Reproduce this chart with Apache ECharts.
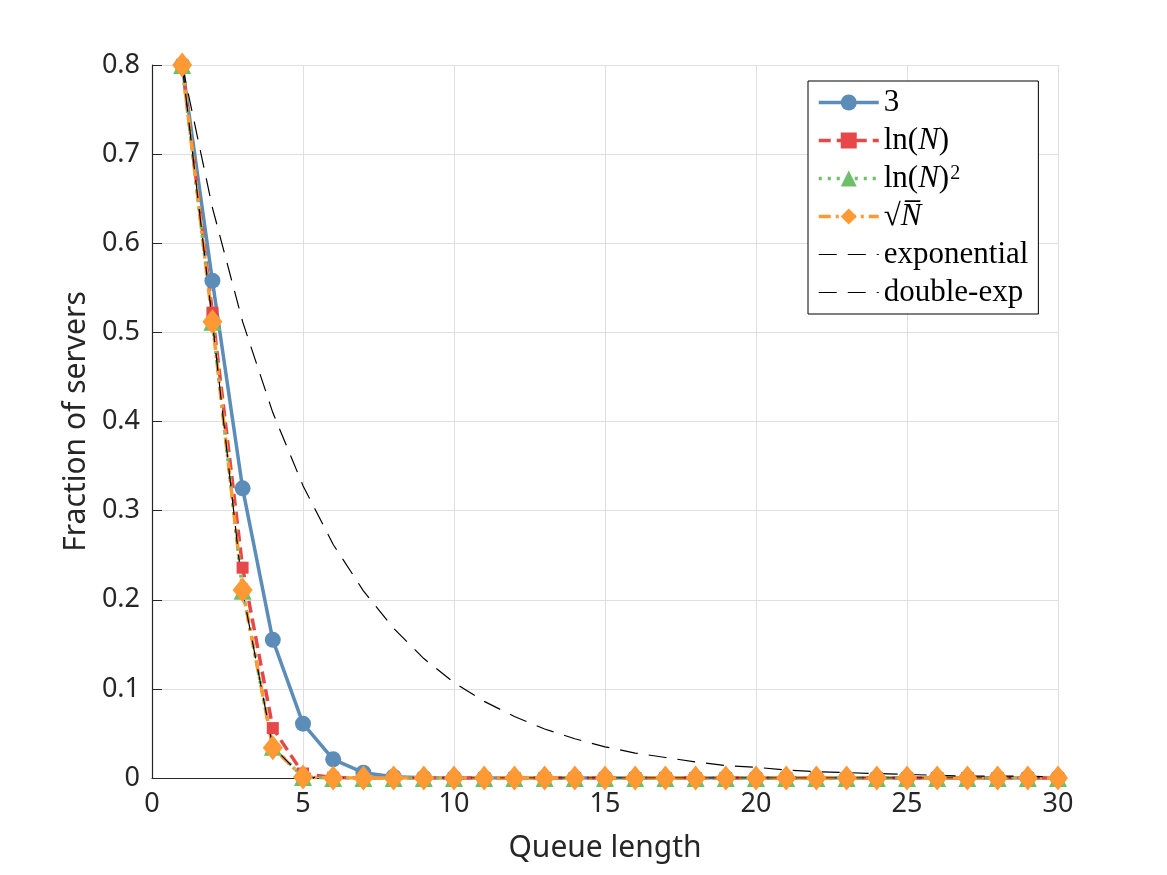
<!DOCTYPE html>
<html>
<head>
<meta charset="utf-8">
<script src="https://cdn.jsdelivr.net/npm/echarts@6/dist/echarts.min.js"></script>
<style>
  html, body { margin: 0; padding: 0; background: #fff; }
  #main { width: 1167px; height: 875px; }
</style>
</head>
<body>
<div id="main"></div>
<script>
var queueLen = [1, 2, 3, 4, 5, 6, 7, 8, 9, 10, 11, 12, 13, 14, 15, 16, 17, 18, 19, 20, 21, 22, 23, 24, 25, 26, 27, 28, 29, 30]

var seriesNames = ['3', 'ln(N)', 'ln(N)^2', 'sqrtN', 'exponential', 'double-exp']

var d3 = [0.8, 0.558, 0.325, 0.155, 0.061, 0.021, 0.006, 0.0015, 0.0004, 0.0001, 0, 0, 0, 0, 0, 0, 0, 0, 0, 0, 0, 0, 0, 0, 0, 0, 0, 0, 0, 0]
var dLn = [0.8, 0.522, 0.236, 0.056, 0.005, 0.0004, 0, 0, 0, 0, 0, 0, 0, 0, 0, 0, 0, 0, 0, 0, 0, 0, 0, 0, 0, 0, 0, 0, 0, 0]
var dLn2 = [0.8, 0.512, 0.21, 0.035, 0.001, 0, 0, 0, 0, 0, 0, 0, 0, 0, 0, 0, 0, 0, 0, 0, 0, 0, 0, 0, 0, 0, 0, 0, 0, 0]
var dSqrt = [0.8, 0.512, 0.211, 0.034, 0.001, 0, 0, 0, 0, 0, 0, 0, 0, 0, 0, 0, 0, 0, 0, 0, 0, 0, 0, 0, 0, 0, 0, 0, 0, 0]
var dExp = [0.8, 0.64, 0.512, 0.41, 0.328, 0.262, 0.21, 0.168, 0.134, 0.107, 0.086, 0.069, 0.055, 0.044, 0.035, 0.028, 0.023, 0.018, 0.014, 0.012, 0.009, 0.007, 0.006, 0.005, 0.004, 0.003, 0.002, 0.002, 0.002, 0.001]
var dDbl = [0.8, 0.512, 0.21, 0.035, 0.001, 0, 0, 0, 0, 0, 0, 0, 0, 0, 0, 0, 0, 0, 0, 0, 0, 0, 0, 0, 0, 0, 0, 0, 0, 0]

function pairs(ys) {
    return queueLen.map(function (x, i) { return [x, ys[i]] })
}

// legend labels, latex-ish look
var legendLabel = {
    '3': '{r|3}',
    'ln(N)': '{r|ln(}{i|N}{r|)}',
    'ln(N)^2': '{r|ln(}{i|N}{r|)}{s|2}',
    'sqrtN': '{r|√}{i|N\u0305}',
    'exponential': '{r|exponential}',
    'double-exp': '{r|double-exp}'
}

var axisColor = '#262626'
var gridColor = '#dfdfdf'
var noMark = 'rgba(0,0,0,0)'

var myChart = echarts.init(document.getElementById('main'))

var option = {
    animation: false,
    backgroundColor: '#fff',
    grid: { left: 152, top: 65, right: 109, bottom: 97 },
    legend: {
        orient: 'vertical',
        left: 808,
        top: 81,
        padding: [6, 10, 6, 9],
        itemGap: 7,
        itemWidth: 60,
        itemHeight: 20,
        backgroundColor: '#fff',
        borderColor: '#000',
        borderWidth: 1,
        borderRadius: 0,
        data: [
            { name: '3', lineStyle: { width: 3.5 } },
            { name: 'ln(N)', lineStyle: { width: 3.5 } },
            { name: 'ln(N)^2', lineStyle: { width: 3.5 } },
            { name: 'sqrtN', lineStyle: { width: 3.5 } },
            { name: 'exponential', lineStyle: { width: 1.2 } },
            { name: 'double-exp', lineStyle: { width: 1.2 } }
        ],
        formatter: function (name) { return legendLabel[name] },
        textStyle: {
            fontFamily: 'Liberation Serif',
            fontSize: 31,
            lineHeight: 30,
            color: '#000',
            rich: {
                r: { fontFamily: 'Liberation Serif', fontSize: 31, lineHeight: 30, color: '#000' },
                i: { fontFamily: 'Liberation Serif', fontStyle: 'italic', fontSize: 31, lineHeight: 30, color: '#000' },
                s: { fontFamily: 'Liberation Serif', fontSize: 20, lineHeight: 30, color: '#000', verticalAlign: 'top', padding: [0, 0, 10, 1] }
            }
        }
    },
    xAxis: {
        type: 'value',
        min: 0,
        max: 30,
        interval: 5,
        name: 'Queue length',
        nameLocation: 'middle',
        nameGap: 55,
        nameTextStyle: { fontFamily: 'Noto Sans', fontSize: 30, color: axisColor },
        axisLine: { lineStyle: { color: axisColor, width: 1.2 } },
        axisTick: { inside: true, length: 10, lineStyle: { color: axisColor } },
        axisLabel: { fontFamily: 'Noto Sans', fontSize: 27, color: axisColor, margin: 13 },
        splitLine: { show: true, lineStyle: { color: gridColor, width: 1 } }
    },
    yAxis: {
        type: 'value',
        min: 0,
        max: 0.8,
        interval: 0.1,
        name: 'Fraction of servers',
        nameLocation: 'middle',
        nameGap: 58,
        nameTextStyle: { fontFamily: 'Noto Sans', fontSize: 30, color: axisColor },
        axisLine: { show: true, lineStyle: { color: axisColor, width: 1.2 } },
        axisTick: { show: true, inside: true, length: 10, lineStyle: { color: axisColor } },
        axisLabel: {
            fontFamily: 'Noto Sans', fontSize: 27, color: axisColor, margin: 12,
            formatter: function (v) { return v === 0 ? '0' : v.toFixed(1) }
        },
        splitLine: { show: true, lineStyle: { color: gridColor, width: 1 } }
    },
    series: [
        {
            name: '3', type: 'line', data: pairs(d3),
            symbol: 'circle', symbolSize: 16,
            lineStyle: { color: '#5b8db8', width: 3.5 },
            itemStyle: { color: '#5b8db8' }
        },
        {
            name: 'ln(N)', type: 'line', data: pairs(dLn),
            symbol: 'rect', symbolSize: 12,
            lineStyle: { color: '#e8474a', width: 3.5, type: [12, 6] },
            itemStyle: { color: '#e8474a' }
        },
        {
            name: 'ln(N)^2', type: 'line', data: pairs(dLn2),
            symbol: 'triangle', symbolSize: 18,
            lineStyle: { color: '#6dbf6a', width: 3.5, type: [3, 6] },
            itemStyle: { color: '#6dbf6a' }
        },
        {
            name: 'sqrtN', type: 'line', data: pairs(dSqrt),
            symbol: 'diamond', symbolSize: [20, 25],
            lineStyle: { color: '#ff9933', width: 3.5, type: [12, 5, 3, 5] },
            itemStyle: { color: '#ff9933' }
        },
        {
            name: 'exponential', type: 'line', data: pairs(dExp),
            symbol: 'none',
            lineStyle: { color: '#000', width: 1.2, type: [18, 11] },
            itemStyle: { color: noMark }
        },
        {
            name: 'double-exp', type: 'line', data: pairs(dDbl),
            symbol: 'none',
            lineStyle: { color: '#000', width: 1.2, type: [18, 11] },
            itemStyle: { color: noMark }
        }
    ]
}

myChart.setOption(option)
</script>
</body>
</html>
